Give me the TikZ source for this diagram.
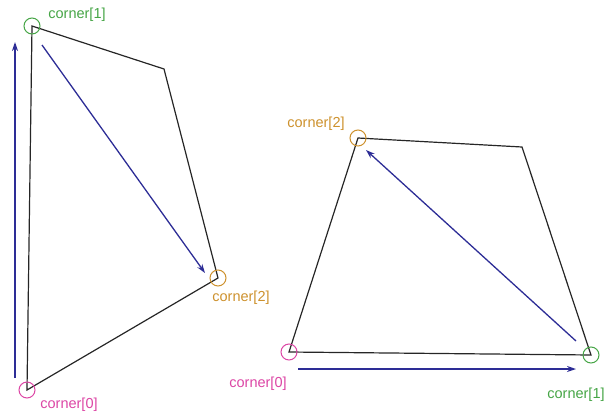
\documentclass[tikz,border=0pt]{standalone}
\usepackage{fontspec}
\setmainfont{Liberation Sans}
\usetikzlibrary{arrows.meta}
\definecolor{cgreen}{RGB}{70,165,70}
\definecolor{cmag}{RGB}{220,70,165}
\definecolor{corange}{RGB}{205,145,45}
\definecolor{cblue}{RGB}{45,45,150}
\tikzset{
  quad/.style={draw=black!85, line width=1.2pt},
  mark circle/.style={circle, draw, line width=1pt, minimum size=16pt, inner sep=0pt},
  lbl/.style={font=\fontsize{14.5}{16}\selectfont, inner sep=0pt},
  vec/.style={draw=cblue, line width=1.3pt, -{Stealth[length=9pt,width=6pt]}}
}
\begin{document}
\begin{tikzpicture}[x=1pt,y=-1pt]
\useasboundingbox (0,0) rectangle (613,418);
% left quadrilateral
\coordinate (A0) at (27,390);
\coordinate (A1) at (32,26);
\coordinate (A3) at (164,69);
\coordinate (A2) at (218,278);
\draw[quad] (A0) -- (A1) -- (A3) -- (A2) -- cycle;
\node[mark circle, draw=cmag] (cA0) at (A0) {};
\node[mark circle, draw=cgreen] (cA1) at (A1) {};
\node[mark circle, draw=corange] (cA2) at (A2) {};
\node[lbl, text=cgreen] (lA1) at (77,15) {corner[1]};
\node[lbl, text=cmag] (lA0) at (69,405) {corner[0]};
\node[lbl, text=corange] (lA2) at (241,298) {corner[2]};
\coordinate (vA1s) at (15,378);
\coordinate (vA1e) at (15,42);
\draw[vec] (vA1s) -- (vA1e);
\coordinate (vA2s) at (42,45);
\coordinate (vA2e) at (205,273);
\draw[vec] (vA2s) -- (vA2e);
% right quadrilateral
\coordinate (B0) at (289,352);
\coordinate (B1) at (591,355);
\coordinate (B3) at (522,147);
\coordinate (B2) at (358,138);
\draw[quad] (B0) -- (B1) -- (B3) -- (B2) -- cycle;
\node[mark circle, draw=cmag] (cB0) at (B0) {};
\node[mark circle, draw=cgreen] (cB1) at (B1) {};
\node[mark circle, draw=corange] (cB2) at (B2) {};
\node[lbl, text=corange] (lB2) at (316,124) {corner[2]};
\node[lbl, text=cmag] (lB0) at (258,384) {corner[0]};
\node[lbl, text=cgreen] (lB1) at (576,395) {corner[1]};
\coordinate (vB1s) at (298,369);
\coordinate (vB1e) at (576,369);
\draw[vec] (vB1s) -- (vB1e);
\coordinate (vB2s) at (576,341);
\coordinate (vB2e) at (366,150);
\draw[vec] (vB2s) -- (vB2e);
\end{tikzpicture}
\end{document}
